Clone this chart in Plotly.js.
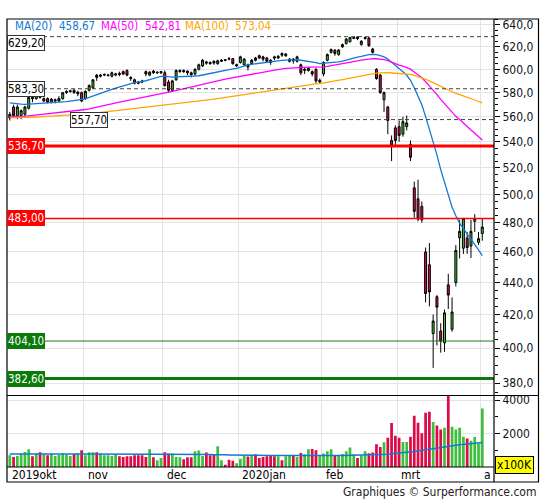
<!DOCTYPE html>
<html><head><meta charset="utf-8">
<script src="https://cdn.plot.ly/plotly-3.0.1.min.js"></script>
<style>html,body{margin:0;padding:0;background:#fff;}#chart{width:545px;height:500px;}</style>
</head><body><div id="chart"></div>
<script>
// ---------------- data ----------------
const dates = [
'2019-10-04','2019-10-07','2019-10-08','2019-10-09','2019-10-10','2019-10-11','2019-10-14','2019-10-15','2019-10-16','2019-10-17','2019-10-18','2019-10-21','2019-10-22','2019-10-23','2019-10-24','2019-10-25','2019-10-28','2019-10-29','2019-10-30','2019-10-31',
'2019-11-01','2019-11-04','2019-11-05','2019-11-06','2019-11-07','2019-11-08','2019-11-11','2019-11-12','2019-11-13','2019-11-14','2019-11-15','2019-11-18','2019-11-19','2019-11-20','2019-11-21','2019-11-22','2019-11-25','2019-11-26','2019-11-27','2019-11-28','2019-11-29',
'2019-12-02','2019-12-03','2019-12-04','2019-12-05','2019-12-06','2019-12-09','2019-12-10','2019-12-11','2019-12-12','2019-12-13','2019-12-16','2019-12-17','2019-12-18','2019-12-19','2019-12-20','2019-12-23','2019-12-24','2019-12-27','2019-12-30','2019-12-31',
'2020-01-02','2020-01-03','2020-01-06','2020-01-07','2020-01-08','2020-01-09','2020-01-10','2020-01-13','2020-01-14','2020-01-15','2020-01-16','2020-01-17','2020-01-20','2020-01-21','2020-01-22','2020-01-23','2020-01-24','2020-01-27','2020-01-28','2020-01-29','2020-01-30','2020-01-31',
'2020-02-03','2020-02-04','2020-02-05','2020-02-06','2020-02-07','2020-02-10','2020-02-11','2020-02-12','2020-02-13','2020-02-14','2020-02-17','2020-02-18','2020-02-19','2020-02-20','2020-02-21','2020-02-24','2020-02-25','2020-02-26','2020-02-27','2020-02-28',
'2020-03-02','2020-03-03','2020-03-04','2020-03-05','2020-03-06','2020-03-09','2020-03-10','2020-03-11','2020-03-12','2020-03-13','2020-03-16','2020-03-17','2020-03-18','2020-03-19','2020-03-20','2020-03-23','2020-03-24','2020-03-25','2020-03-26','2020-03-27','2020-03-30','2020-03-31',
'2020-04-01'];

const open = [559,568,561,561,562,567,576,575,579,573,575,572,573,573,575,580,581,582,579,580,
575,582,584,595,594,595,594.5,594,595,596.5,598,599,593,591,589,590,598,595,598.5,597,597,
597,589,582,591,598,599,598.5,597,596,600,603,606.5,606,607,605,607,608.5,609.5,609.5,603,
606,604,604,605,610,612,611,610,608,611,610,614,612,607,609,607,604,599,599,598,600,589,
596,608,615,617,613,620,623,624.5,627.5,629,622,627.5,628,618,600,595,574,568,541,551,
552,546,552,538,505,497,491.5,460,451.5,408.5,431,410,403,438.5,411,440,469.5,462.5,469.5,464,481,466.5,
472.5];
const high = [564,570,570,566,569,577,577,580,580,576,576,575.5,575,577,580.5,582,582.5,583,581.5,581,
582,587,591,596,596,596.5,596,598,597,598,599,600,594,592,590,591,599,598.5,599.5,598,598.5,
599,591,591,600,600,600,599,598,601,605,609,607.5,607,608,608.5,609,609,611,610,605,
612,610,605,609,611,613,612,611,609,612,612.5,615,614.5,610,610,612,605,602,602,599,601,592,
607,614,618.5,618,618,623,628,628.8,628.9,629.2,626,629,629,619,601,596,581,569,545,553,
557,560,561,541,509.6,511,495,463,466,420,432,414.7,423,445.6,430.6,464.6,482,483.3,473.5,482,486,473.6,
483];
const low = [557,559,558,558,560,566,572,574,575,572,571,571,571,572,574,579,580,579,577,572,
574,581,583,590,593,594,594,593,594,594,595,594,590,587,587,588,594,594,596,596,596,
585,580,581,590,597,597,595,593,595,599,602,604,604,604,604,606.5,607,608,604,602,
605,603,599,604,607,609,607,606,604,608,609,611,611,606,605,606,595,596,598,594,588,588,
594,607,614,612,612,619,622,624,627,626,621,626.5,620,614,591,579,564,546,525,536,
540,544,549,525,483.5,481,480,427.5,425,388.6,401.5,397.3,397.8,423.4,409.6,437.5,455.7,458.7,458.7,456,473.6,464.7,
467.6];
const close = [562,561,568,565,568,576,575,578,576,575,572,574.5,574,575,580,581,581.5,580,580.5,573,
581,586,591,593,595,595.5,595,597,596,595.5,596,595,592,588,588,589,596,597.5,597,597.5,598,
586,582,590,599,599,598,597,595.5,600,604,608,605.5,605,605.5,607.5,608,608,609,605,604,
611,609,602,608,608,610,609,607,606,610,611.5,612.5,613.5,609,607.5,611,597,600,601,596,590,590.5,
606,613,617.5,614,617,622,627,628.5,628.5,627.5,625,628.5,621,615,592,580,580,557,537,541,
545,556,555,528,488,482.5,482,433,434,416,424.5,404,421,432,421.5,461,474,483,463,474,483,469,
477];
// volume in units of 100K
const volume = [700,600,660,800,900,1060,640,800,880,780,700,780,660,720,820,740,660,780,820,1000,
700,880,880,880,800,700,700,660,740,640,600,640,640,700,700,700,600,1060,580,400,540,
880,800,800,600,580,460,580,580,940,980,660,860,700,740,1240,400,140,440,380,220,
500,700,620,700,760,540,600,640,700,640,640,400,640,700,700,600,840,760,1060,1080,1000,700,
800,940,1060,700,700,780,940,1160,740,540,700,940,820,860,1360,1200,1480,1740,2620,1860,
1740,1500,1500,1800,3060,2640,2020,3240,3300,2690,2480,2240,2340,4300,2400,2240,2340,1810,1700,1560,1790,1400,
3490];

const monthLabels = ['2019okt','nov','dec','2020jan','feb','mrt','a'];
const maPeriods = [20, 50, 100];
const maSeeds = [572, 560, 559];          // MA values at the left edge of the chart
const maColors = ['#1479d4', '#ff00ff', '#ffa500'];
const maLabelText = ['458,67', '542,81', '573,04'];
const volMaPeriod = 60, volMaSeed = 780;

const levels = [629.2, 583.3, 557.7, 536.7, 483.0, 404.1, 382.6];
const levelText = ['629,20', '583,30', '557,70', '536,70', '483,00', '404,10', '382,60'];

const priceTicks = [380,400,420,440,460,480,500,520,540,560,580,600,620,640];
const volTicks = [2000, 4000];

// ---------------- geometry ----------------
const W = 545, H = 500, ML = 7, MR = 51, MT = 19, MB = 33;
const PW = W - ML - MR, PH = H - MT - MB;
const SEP = 395.5;
const volTop = (H - MB - SEP) / PH;
const px2x = p => (p - ML) / PW;
const py2y = p => (H - MB - p) / PH;
const FONT = '"DejaVu Sans Condensed", "Liberation Sans", Arial, sans-serif';
const GREEN = '#3cbf3c', RED = '#dc0a46';

const idx = dates.map((d, i) => i);
function sma(arr, n, seed) {
  return arr.map((v, i) => {
    let s = 0;
    for (let j = Math.max(0, i - n + 1); j <= i; j++) s += arr[j];
    s += Math.max(0, n - 1 - i) * seed;
    return s / n;
  });
}
const fmt1 = v => v.toFixed(1).replace('.', ',');

// month boundaries
const bounds = [];
dates.forEach((d, i) => { if (i === 0 || d.slice(0, 7) !== dates[i - 1].slice(0, 7)) bounds.push(i - 0.5); });

const traces = [];
traces.push({
  type: 'candlestick', x: idx, open: open, high: high, low: low, close: close,
  xaxis: 'x', yaxis: 'y', whiskerwidth: 0, hoverinfo: 'skip',
  increasing: { line: { color: '#000', width: 1 }, fillcolor: GREEN },
  decreasing: { line: { color: '#000', width: 1 }, fillcolor: RED },
  showlegend: false
});
maPeriods.forEach((n, k) => {
  traces.push({ type: 'scatter', mode: 'lines', x: idx, y: sma(close, n, maSeeds[k]),
    xaxis: 'x', yaxis: 'y', line: { color: maColors[k], width: 1.3 }, hoverinfo: 'skip', showlegend: false });
});
traces.push({
  type: 'bar', x: idx, y: volume, xaxis: 'x', yaxis: 'y2', width: 0.72,
  marker: { color: idx.map(i => close[i] >= open[i] ? GREEN : RED), line: { width: 0 } },
  hoverinfo: 'skip', showlegend: false
});
traces.push({ type: 'scatter', mode: 'lines', x: idx, y: sma(volume, volMaPeriod, volMaSeed),
  xaxis: 'x', yaxis: 'y2', line: { color: '#1479d4', width: 1.5 }, hoverinfo: 'skip', showlegend: false });

// ---------------- shapes ----------------
const shapes = [];
const lvlStyle = [
  { c: '#404040', w: 1, d: '4px,3px', x0: 43 },
  { c: '#404040', w: 1, d: '4px,3px', x0: 43 },
  { c: '#404040', w: 1, d: '4px,3px', x0: 104 },
  { c: '#ff0000', w: 3, d: 'solid', x0: 7 },
  { c: '#ff0000', w: 1.5, d: 'solid', x0: 7 },
  { c: '#1d7a1d', w: 1, d: 'solid', x0: 7 },
  { c: '#0d770d', w: 3, d: 'solid', x0: 7 }
];
levels.forEach((v, k) => {
  shapes.push({ type: 'line', xref: 'paper', yref: 'y', x0: px2x(lvlStyle[k].x0), x1: 1, y0: v, y1: v,
    line: { color: lvlStyle[k].c, width: lvlStyle[k].w, dash: lvlStyle[k].d }, layer: 'above' });
});
// legend background
shapes.push({ type: 'rect', xref: 'paper', yref: 'paper', x0: px2x(7.5), x1: px2x(272), y0: py2y(33), y1: py2y(19.6),
  fillcolor: '#fff', line: { width: 0 }, layer: 'above' });
// frames
const fr = { color: '#000', width: 1.2 };
shapes.push({ type: 'rect', xref: 'paper', yref: 'paper', x0: 0, x1: px2x(538.5), y0: py2y(482), y1: 1, line: fr, layer: 'above' });
shapes.push({ type: 'line', xref: 'paper', yref: 'paper', x0: 1, x1: 1, y0: py2y(482), y1: 1, line: fr, layer: 'above' });
shapes.push({ type: 'line', xref: 'paper', yref: 'paper', x0: 0, x1: px2x(538.5), y0: volTop, y1: volTop, line: fr, layer: 'above' });
shapes.push({ type: 'line', xref: 'paper', yref: 'paper', x0: 0, x1: 1, y0: 0, y1: 0, line: fr, layer: 'above' });

// ---------------- annotations ----------------
const ann = [];
const boxStyle = [
  { bg: '#fff', fg: '#000', bc: '#333', x: 7 },
  { bg: '#fff', fg: '#000', bc: '#333', x: 7 },
  { bg: '#fff', fg: '#000', bc: '#333', x: 70 },
  { bg: '#ff0000', fg: '#fff', bc: '#ff0000', x: 7 },
  { bg: '#ff0000', fg: '#fff', bc: '#ff0000', x: 7 },
  { bg: '#0a7a0a', fg: '#fff', bc: '#0a7a0a', x: 7 },
  { bg: '#0a7a0a', fg: '#fff', bc: '#0a7a0a', x: 7 }
];
levels.forEach((v, k) => {
  const a = { xref: 'paper', yref: 'y', x: px2x(boxStyle[k].x), y: Math.log10(v), xanchor: 'left', yanchor: 'middle',
    text: levelText[k], showarrow: false, bgcolor: boxStyle[k].bg, bordercolor: boxStyle[k].bc, borderwidth: 1, borderpad: 0,
    font: { family: FONT, size: 11.5, color: boxStyle[k].fg } };
  if (k === 0) { a.yref = 'paper'; a.y = py2y(34.5); a.yanchor = 'top'; }
  ann.push(a);
});
// legend texts
const legendX = [13, 57, 99, 143, 183, 233];
const legendItems = [];
maPeriods.forEach((n, k) => { legendItems.push(['MA(' + n + ')', maColors[k]]); legendItems.push([maLabelText[k], maColors[k]]); });
legendItems.forEach((it, k) => {
  ann.push({ xref: 'paper', yref: 'paper', x: px2x(legendX[k]), y: py2y(26), xanchor: 'left', yanchor: 'middle',
    text: it[0], showarrow: false, font: { family: FONT, size: 11.5, color: it[1] } });
});
// month labels
bounds.forEach((b, k) => {
  ann.push({ xref: 'x', yref: 'paper', x: b, y: py2y(474.5), xanchor: 'left', yanchor: 'middle', xshift: 2,
    text: monthLabels[k], showarrow: false, font: { family: FONT, size: 12, color: '#000' } });
});
ann.push({ xref: 'paper', yref: 'paper', x: px2x(495), y: py2y(464.8), xanchor: 'left', yanchor: 'middle',
  text: 'x100K', showarrow: false, bgcolor: '#ffff00', bordercolor: '#000', borderwidth: 1, borderpad: 1,
  font: { family: FONT, size: 12, color: '#000' } });
ann.push({ xref: 'paper', yref: 'paper', x: px2x(538), y: py2y(492), xanchor: 'right', yanchor: 'middle',
  text: 'Graphiques © Surperformance.com', showarrow: false, font: { family: FONT, size: 12, color: '#222' } });

const minorPrice = [];
for (let v = 375; v <= 645; v += 5) if (v % 20 !== 0) minorPrice.push(v);

const layout = {
  width: W, height: H, margin: { l: ML, r: MR, t: MT, b: MB, pad: 0 },
  paper_bgcolor: '#fff', plot_bgcolor: '#fff', showlegend: false, hovermode: false,
  boxgap: 0.25,
  xaxis: { range: [(ML - 9.8) / 3.78, (W - MR - 9.8) / 3.78], anchor: 'y2', tickmode: 'array', tickvals: bounds.slice(1),
    showticklabels: false, ticks: '', showgrid: true, gridcolor: '#e4e4e4', gridwidth: 1, zeroline: false,
    showline: false, rangeslider: { visible: false }, fixedrange: true },
  yaxis: { domain: [volTop, 1], type: 'log', range: [Math.log10(373.3), Math.log10(645.6)], side: 'right', anchor: 'x',
    tickmode: 'array', tickvals: priceTicks, ticktext: priceTicks.map(fmt1), ticks: 'outside', ticklen: 5, tickwidth: 1, tickcolor: '#000',
    showgrid: true, gridcolor: '#e4e4e4', gridwidth: 1, zeroline: false, showline: false,
    minor: { tickmode: 'array', tickvals: minorPrice, ticks: 'outside', ticklen: 3, tickwidth: 1, tickcolor: '#000', showgrid: false },
    tickfont: { family: FONT, size: 12, color: '#111' }, fixedrange: true },
  yaxis2: { domain: [0, volTop], range: [0, 4000 * (H - MB - SEP) / (H - MB - 400)], side: 'right', anchor: 'x',
    tickmode: 'array', tickvals: volTicks, ticktext: volTicks.map(String), ticks: 'outside', ticklen: 5, tickwidth: 1, tickcolor: '#000',
    showgrid: true, gridcolor: '#e4e4e4', gridwidth: 1, zeroline: false, showline: false,
    minor: { tickmode: 'array', tickvals: [1000, 3000], ticks: 'outside', ticklen: 3, tickwidth: 1, tickcolor: '#000', showgrid: false },
    tickfont: { family: FONT, size: 12, color: '#111' }, fixedrange: true },
  shapes: shapes, annotations: ann
};

Plotly.newPlot('chart', traces, layout, { staticPlot: true, displayModeBar: false });
</script>
</body></html>
